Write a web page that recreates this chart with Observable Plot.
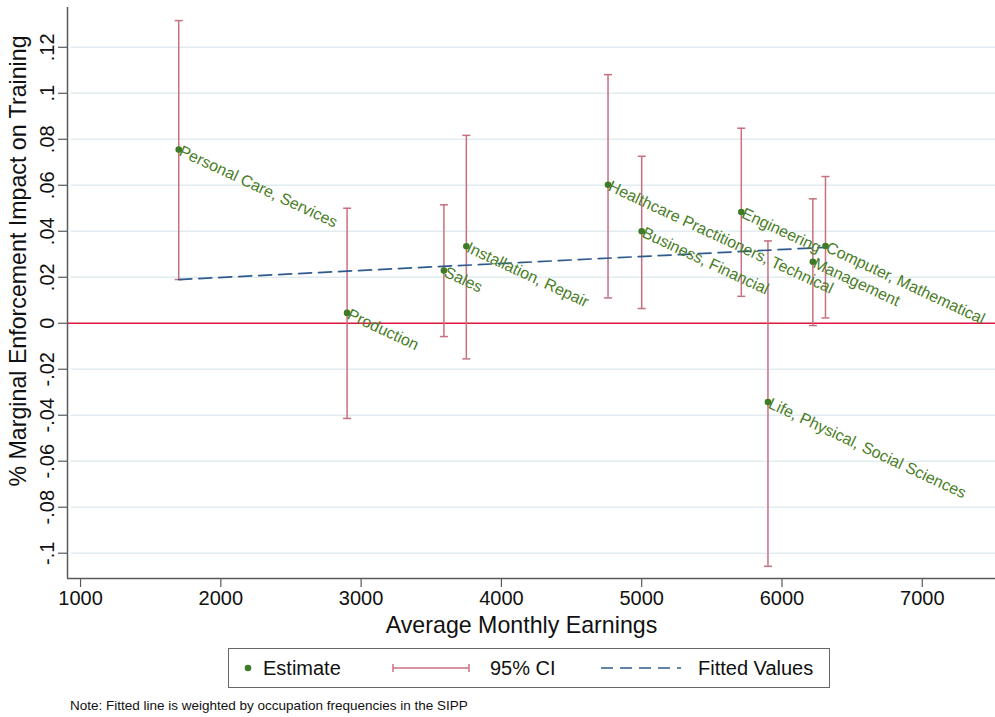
<!DOCTYPE html>
<html>
<head>
<meta charset="utf-8">
<script src="https://cdn.jsdelivr.net/npm/d3@7"></script>
<script src="https://cdn.jsdelivr.net/npm/@observablehq/plot@0.6"></script>
<style>
  body { margin: 0; background: #fff; font-family: "Liberation Sans", Arial, Helvetica, sans-serif; }
  #wrap { position: relative; width: 995px; height: 717px; }
  #legend { position: absolute; left: 228px; top: 648px; width: 602px; height: 40px;
            border: 1.5px solid #666; box-sizing: border-box; }
  #legend svg { position: absolute; left: 0; top: 0; }
  #note { position: absolute; left: 70px; top: 698px; font-size: 13.5px; color: #111; }
</style>
</head>
<body>
<div id="wrap">
  <div id="chart"></div>
  <div id="legend"></div>
  <div id="note">Note: Fitted line is weighted by occupation frequencies in the SIPP</div>
</div>
<script>
// Occupation groups: average monthly earnings, point estimate and 95% CI bounds
const occupations = [
  "Personal Care, Services", "Production", "Sales", "Installation, Repair",
  "Healthcare Practitioners, Technical", "Business, Financial", "Engineering",
  "Life, Physical, Social Sciences", "Management", "Computer, Mathematical"
];
const earnings = [1700, 2900, 3590, 3750, 4760, 5000, 5710, 5900, 6220, 6310];
const estimate = [0.0755, 0.0045, 0.0229, 0.0335, 0.0602, 0.0400, 0.0484, -0.0343, 0.0267, 0.0336];
const ciLow    = [0.0190, -0.0414, -0.0058, -0.0155, 0.0110, 0.0064, 0.0117, -0.1057, -0.0010, 0.0023];
const ciHigh   = [0.1316, 0.0500, 0.0515, 0.0817, 0.1081, 0.0726, 0.0848, 0.0358, 0.0541, 0.0638];

// Weighted linear fit, endpoints of the fitted line
const fitX = [1700, 6310];
const fitY = [0.0190, 0.0330];

const xTicks = [1000, 2000, 3000, 4000, 5000, 6000, 7000];
const yTicks = [-0.1, -0.08, -0.06, -0.04, -0.02, 0, 0.02, 0.04, 0.06, 0.08, 0.1, 0.12];
const xDomain = [907, 7522];
const yDomain = [-0.111, 0.1373];

const rows = occupations.map((name, i) => ({
  name, x: earnings[i], est: estimate[i], lo: ciLow[i], hi: ciHigh[i]
}));
const fit = fitX.map((x, i) => ({x, y: fitY[i]}));

const fmtY = v => v === 0 ? "0" : String(+v.toFixed(2)).replace("0.", ".");

const ciColor = "#c7707f";
const ptColor = "#3e7b27";
const lblColor = "#4a7d26";
const fitColor = "#2f5b8c";
const axisColor = "#5a5a5a";

// horizontal cap symbol for the CI ends
const cap = { draw(ctx) { ctx.moveTo(-4, 0); ctx.lineTo(4, 0); } };

const chart = Plot.plot({
  width: 995,
  height: 640,
  marginLeft: 67,
  marginRight: 0,
  marginTop: 7,
  marginBottom: 62,
  style: { fontFamily: "Liberation Sans, Arial, Helvetica, sans-serif", background: "#fff", color: "#111" },
  x: { domain: xDomain },
  y: { domain: yDomain },
  marks: [
    Plot.ruleY(yTicks.filter(d => d !== 0), { stroke: "#e1ecf0", strokeWidth: 1.5, x1: xDomain[0] + 25, x2: xDomain[1] }),
    Plot.ruleY([0], { stroke: "#e0173f", strokeWidth: 1.5 }),
    Plot.ruleX(rows, { x: "x", y1: "lo", y2: "hi", stroke: ciColor, strokeWidth: 1.5 }),
    Plot.dot(rows, { x: "x", y: "lo", symbol: cap, r: 4, stroke: ciColor, strokeWidth: 1.5 }),
    Plot.dot(rows, { x: "x", y: "hi", symbol: cap, r: 4, stroke: ciColor, strokeWidth: 1.5 }),
    Plot.line(fit, { x: "x", y: "y", stroke: fitColor, strokeWidth: 1.7, strokeDasharray: "13,7" }),
    Plot.dot(rows, { x: "x", y: "est", r: 3.3, fill: ptColor }),
    Plot.text(rows, {
      x: "x", y: "est", text: "name", rotate: 25, textAnchor: "start", lineAnchor: "top",
      dx: 4, dy: -5, fill: lblColor, fontSize: 16
    }),
    // axis lines
    Plot.ruleX([xDomain[0]], { stroke: axisColor, strokeWidth: 1.5 }),
    Plot.ruleY([yDomain[0]], { stroke: axisColor, strokeWidth: 1.5 }),
    // y ticks and rotated labels
    Plot.axisY(yTicks, { tickSize: 9, tickFormat: () => "", stroke: axisColor, strokeWidth: 1.2, label: null }),
    Plot.text(yTicks, {
      y: d => d, text: fmtY, frameAnchor: "left", dx: -20, rotate: -90,
      textAnchor: "middle", lineAnchor: "middle", fontSize: 20, fill: "#111"
    }),
    // x ticks
    Plot.axisX(xTicks, { tickSize: 9, tickPadding: 3, fontSize: 20, stroke: axisColor, strokeWidth: 1.2, label: null, tickFormat: d => String(d), fill: "#111" }),
    // axis titles
    Plot.text(["Average Monthly Earnings"], { frameAnchor: "bottom", dx: -10, dy: 54, fontSize: 23.2, fill: "#111" }),
    Plot.text(["% Marginal Enforcement Impact on Training"], {
      frameAnchor: "left", textAnchor: "middle", dx: -49, dy: -32, rotate: -90, fontSize: 23.2, fill: "#111"
    })
  ]
});
document.getElementById("chart").appendChild(chart);

// Legend
const lg = d3.select("#legend").append("svg").attr("width", 602).attr("height", 40)
  .style("font-family", "Liberation Sans, Arial, Helvetica, sans-serif").style("font-size", "20px");
lg.append("circle").attr("cx", 19).attr("cy", 19).attr("r", 3.3).attr("fill", ptColor);
lg.append("text").attr("x", 34).attr("y", 26).attr("fill", "#111").text("Estimate");
lg.append("line").attr("x1", 164).attr("x2", 240).attr("y1", 19).attr("y2", 19).attr("stroke", ciColor).attr("stroke-width", 1.5);
lg.append("line").attr("x1", 164).attr("x2", 164).attr("y1", 15).attr("y2", 23).attr("stroke", ciColor).attr("stroke-width", 1.5);
lg.append("line").attr("x1", 240).attr("x2", 240).attr("y1", 15).attr("y2", 23).attr("stroke", ciColor).attr("stroke-width", 1.5);
lg.append("text").attr("x", 261).attr("y", 26).attr("fill", "#111").text("95% CI");
lg.append("line").attr("x1", 372).attr("x2", 452).attr("y1", 19).attr("y2", 19).attr("stroke", fitColor).attr("stroke-width", 1.6).attr("stroke-dasharray", "12,7");
lg.append("text").attr("x", 469).attr("y", 26).attr("fill", "#111").text("Fitted Values");
</script>
</body>
</html>
